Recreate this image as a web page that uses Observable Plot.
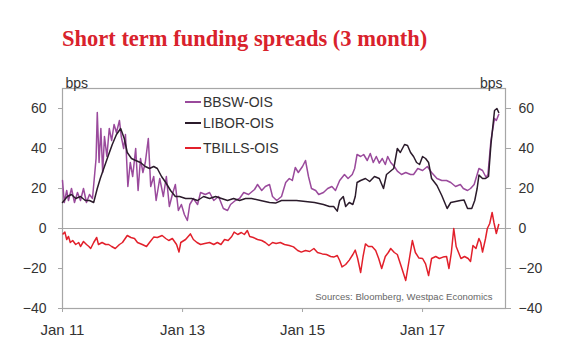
<!DOCTYPE html>
<html><head><meta charset="utf-8">
<script src="https://cdn.jsdelivr.net/npm/d3@7"></script>
<script src="https://cdn.jsdelivr.net/npm/@observablehq/plot@0.6"></script>
<style>
body{margin:0;background:#fff;font-family:"Liberation Sans",Arial,sans-serif;}
#wrap{position:relative;width:580px;height:352px;overflow:hidden;}
#title{position:absolute;left:62px;top:27px;font:bold 22.5px/23px "Liberation Serif","Times New Roman",serif;color:#d9222c;white-space:nowrap;}
#chart{position:absolute;left:0;top:60px;}
#legend{position:absolute;left:185px;top:0;font-size:14px;color:#333;}
.li{position:absolute;white-space:nowrap;display:flex;align-items:center;height:16px;}
.li span.sw{display:inline-block;width:16px;height:2px;margin-right:2px;}
</style></head>
<body><div id="wrap">
<div id="title">Short term funding spreads (3 month)</div>
<div id="chart"></div>
<div id="legend"></div>
</div>
<script>
// decimal years and values (bps)
const bbswT = [2011.00,2011.03,2011.07,2011.10,2011.15,2011.20,2011.25,2011.30,2011.35,2011.40,2011.45,2011.50,2011.53,2011.56,2011.58,2011.61,2011.64,2011.67,2011.70,2011.74,2011.78,2011.82,2011.86,2011.90,2011.95,2011.98,2012.02,2012.05,2012.09,2012.13,2012.17,2012.22,2012.26,2012.30,2012.34,2012.38,2012.43,2012.47,2012.52,2012.56,2012.62,2012.68,2012.73,2012.78,2012.83,2012.88,2012.93,2012.98,2013.03,2013.08,2013.12,2013.18,2013.25,2013.30,2013.38,2013.45,2013.52,2013.60,2013.68,2013.75,2013.80,2013.88,2013.95,2014.02,2014.10,2014.20,2014.25,2014.32,2014.38,2014.45,2014.50,2014.57,2014.65,2014.72,2014.78,2014.83,2014.88,2014.93,2015.00,2015.05,2015.10,2015.15,2015.22,2015.27,2015.35,2015.42,2015.49,2015.55,2015.62,2015.70,2015.76,2015.83,2015.87,2015.91,2015.97,2016.02,2016.08,2016.13,2016.18,2016.23,2016.28,2016.33,2016.38,2016.42,2016.47,2016.53,2016.58,2016.65,2016.72,2016.80,2016.85,2016.92,2017.00,2017.08,2017.15,2017.24,2017.32,2017.40,2017.47,2017.55,2017.63,2017.68,2017.75,2017.80,2017.86,2017.94,2018.00,2018.06,2018.09,2018.14,2018.20,2018.23,2018.27];
const bbswV = [24,13,19,14,20,13,18,14,20,13,17,15,25,35,58,33,50,28,46,36,50,44,52,48,54,46,40,47,21,33,26,40,19,35,28,33,45,21,26,14,25,16,26,11,17,22,9,12,7,4,12,15,12,18,17,18,14,16,10,9,12,14,15,18,17,19.5,22,19,21,22,16,14,16,23,25,24,30.5,28,31,34,26,20,19,17,18,20,21,19,24,27,25,27,30,37,36,37,34,37.5,33,36,32.7,35,32,36,33,31,28.7,27,28,27,27,30,29,31,28,25,24,24,23,21,22,20,19,20,22,30,29,25.5,27,44,55,54,57];

const liborT = [2011.00,2011.08,2011.15,2011.22,2011.30,2011.38,2011.45,2011.52,2011.58,2011.63,2011.70,2011.77,2011.83,2011.90,2011.97,2012.03,2012.08,2012.15,2012.22,2012.30,2012.38,2012.45,2012.52,2012.58,2012.65,2012.72,2012.80,2012.88,2012.95,2013.05,2013.15,2013.25,2013.35,2013.45,2013.55,2013.65,2013.75,2013.85,2013.95,2014.05,2014.15,2014.30,2014.45,2014.55,2014.65,2014.75,2014.90,2015.05,2015.20,2015.35,2015.45,2015.52,2015.58,2015.62,2015.68,2015.72,2015.78,2015.84,2015.88,2015.91,2015.97,2016.05,2016.12,2016.20,2016.28,2016.35,2016.40,2016.48,2016.52,2016.58,2016.63,2016.70,2016.75,2016.80,2016.85,2016.90,2016.95,2017.00,2017.05,2017.10,2017.15,2017.24,2017.32,2017.41,2017.47,2017.55,2017.63,2017.69,2017.75,2017.82,2017.87,2017.91,2017.94,2018.00,2018.05,2018.10,2018.14,2018.20,2018.24,2018.27];
const liborV = [13,16,17,15,16,14,14,13,20,25,31,37,42,47,50,45,38,35,34,33,31,30,31,30,26,23,19,16,16,15,15,14,16,15,16,15,14,15,14,15,15,14,13,12.7,14,14,14,13.5,13,12,11,11,8.7,14,16,11,13,12,16,23,24,25,23.5,26,25,20,27,29,30,40,38,42,41.5,38,36,33,32,36,35,33,25,21.5,16.5,10,13,13.5,14,14.3,10,10,14,20,26.7,25,25,26,42,59,60,58];

const tbillT = [2011.01,2011.04,2011.07,2011.10,2011.13,2011.17,2011.22,2011.27,2011.30,2011.35,2011.40,2011.44,2011.47,2011.52,2011.57,2011.60,2011.66,2011.72,2011.77,2011.82,2011.88,2011.95,2012.00,2012.08,2012.14,2012.20,2012.25,2012.33,2012.40,2012.45,2012.52,2012.58,2012.66,2012.72,2012.77,2012.83,2012.90,2012.94,2012.97,2013.05,2013.13,2013.18,2013.24,2013.30,2013.37,2013.45,2013.52,2013.58,2013.64,2013.70,2013.76,2013.82,2013.86,2013.92,2013.98,2014.03,2014.08,2014.12,2014.18,2014.25,2014.32,2014.38,2014.44,2014.50,2014.56,2014.63,2014.70,2014.78,2014.85,2014.92,2014.98,2015.05,2015.12,2015.19,2015.25,2015.33,2015.40,2015.47,2015.52,2015.58,2015.62,2015.66,2015.72,2015.78,2015.84,2015.88,2015.92,2015.97,2016.01,2016.05,2016.10,2016.16,2016.22,2016.27,2016.32,2016.38,2016.43,2016.47,2016.53,2016.58,2016.64,2016.72,2016.77,2016.83,2016.88,2016.94,2017.00,2017.05,2017.10,2017.15,2017.22,2017.28,2017.34,2017.40,2017.44,2017.48,2017.52,2017.56,2017.60,2017.64,2017.70,2017.76,2017.80,2017.84,2017.89,2017.94,2017.97,2018.00,2018.05,2018.08,2018.12,2018.16,2018.19,2018.23,2018.27];
const tbillV = [-2.7,-1.8,-5.5,-4,-7,-6,-8,-7,-9,-6.5,-8,-9,-10,-7,-4.5,-8,-7,-8,-8,-9,-10,-8,-7,-3.5,-4.5,-5,-7,-8,-9,-7,-4.3,-4.5,-3.5,-5,-6,-5,-8,-11.8,-7,-5.5,-2.7,-5.5,-7,-8,-7.5,-7,-8,-7,-8,-5.5,-6,-4,-1.8,-3,-2,-3,-1,-4,-4.5,-5.5,-6,-7,-8.5,-7,-7.5,-7,-8,-8.5,-9.2,-11,-11.8,-11,-11.5,-10,-12,-12.7,-13,-14,-14.3,-13.5,-16,-19.2,-18,-15.8,-13,-10.8,-15,-22,-14,-7.7,-9,-9,-11,-15,-20,-14,-12,-10,-12,-13,-18.5,-26,-17,-6,-12,-14.8,-15,-17.7,-23.5,-15,-14,-15,-14.3,-14,-20,-12,0,-9,-12,-15,-14,-15,-16.5,-8.5,-10,-5,-7,-11.8,-5,0,2.5,8,3,-2.5,2];

const seriesNames = ["BBSW-OIS","LIBOR-OIS","TBILLS-OIS"];
const seriesColors = ["#9a4a9c","#2b1b2b","#e2202b"];
const yTicks = [-40,-20,0,20,40,60];
const xTickYears = [2011,2013,2015,2017];
const xEndYear = 2018.383;
const sourceText = "Sources: Bloomberg, Westpac Economics";

const toDate = y => { const yr = Math.floor(y); const s = Date.UTC(yr,0,1), e = Date.UTC(yr+1,0,1); return new Date(s + (y-yr)*(e-s)); };
const mk = (T,V,name) => T.map((t,i)=>({date:toDate(t), value:V[i], series:name}));
const data = [...mk(bbswT,bbswV,seriesNames[0]), ...mk(liborT,liborV,seriesNames[1]), ...mk(tbillT,tbillV,seriesNames[2])];

const grey = "#a6a6a6";
const fmt = d3.utcFormat("%b %y");
const chart = Plot.plot({
  width:580, height:292,
  marginTop:28, marginBottom:44, marginLeft:62, marginRight:75,
  style:{fontFamily:"'Liberation Sans', Arial, sans-serif", fontSize:"14px", color:"#333", background:"transparent"},
  x:{type:"utc", domain:[toDate(2011), toDate(xEndYear)], axis:null},
  y:{domain:[-40,70], axis:null},
  color:{domain:seriesNames, range:seriesColors},
  marks:[
    Plot.ruleY([0],{stroke:grey, strokeWidth:1.2}),
    Plot.frame({stroke:grey, strokeWidth:1.2}),
    Plot.axisY(yTicks,{anchor:"left", tickSize:4, tickPadding:12, stroke:grey, fontSize:14, fill:"#333", label:null}),
    Plot.axisY(yTicks,{anchor:"right", tickSize:5, tickPadding:8, stroke:grey, fontSize:14, fill:"#333", label:null}),
    Plot.axisX(xTickYears.map(toDate),{anchor:"bottom", tickSize:4, tickPadding:12, stroke:grey, fontSize:15, fill:"#333", tickFormat:fmt, label:null}),
    Plot.line(data,{x:"date", y:"value", z:"series", stroke:"series", strokeWidth:1.5, curve:"linear"}),
    Plot.text(["bps"],{frameAnchor:"top-left", dx:3, dy:-10, textAnchor:"start", fontSize:14, fill:"#333"}),
    Plot.text(["bps"],{frameAnchor:"top-right", dx:-3, dy:-10, textAnchor:"end", fontSize:14, fill:"#333"}),
    Plot.text([sourceText],{frameAnchor:"bottom-right", dx:-13, dy:-9, textAnchor:"end", fontSize:9.5, fill:"#666"})
  ]
});
document.getElementById("chart").appendChild(chart);

const legendY = [102,123,148];
const lg = document.getElementById("legend");
seriesNames.forEach((n,i)=>{
  const d = document.createElement("div");
  d.className = "li";
  d.style.top = (legendY[i]-8) + "px";
  d.innerHTML = `<span class="sw" style="background:${seriesColors[i]}"></span>${n}`;
  lg.appendChild(d);
});
</script>
</body></html>
